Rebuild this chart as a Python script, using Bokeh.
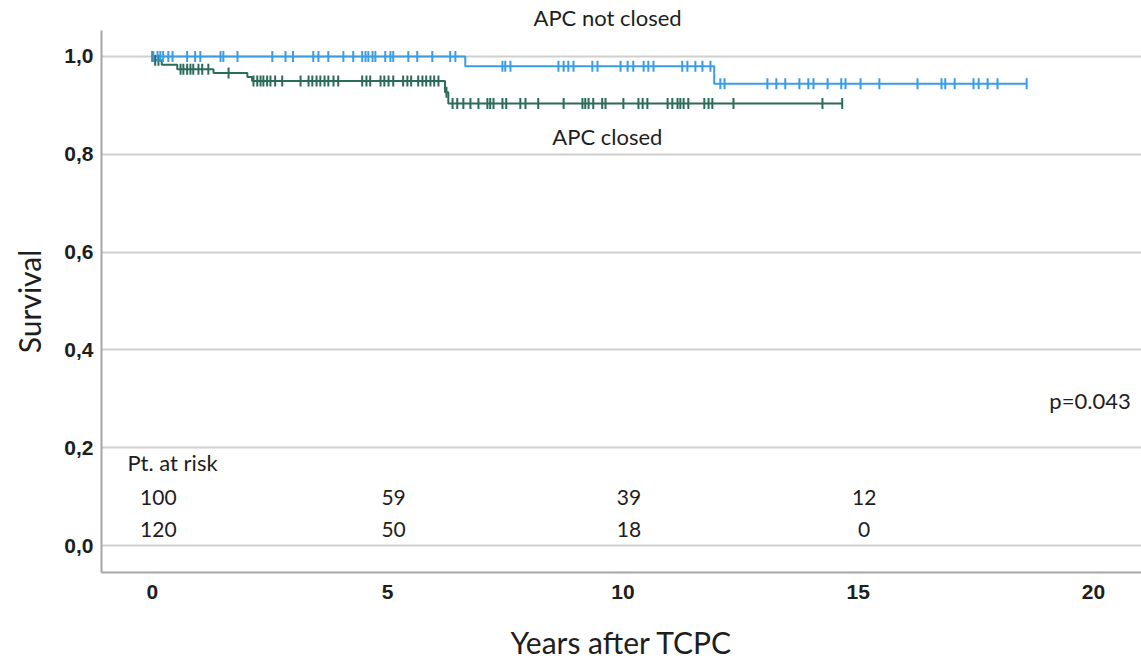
import numpy as np
from bokeh.plotting import figure
from bokeh.models import Range1d, FixedTicker, CustomJSTickFormatter, Label, ColumnDataSource
from bokeh.core.properties import value
from bokeh.embed import file_html
from bokeh.resources import INLINE

# ---------------- data ----------------
x_ticks = [0, 5, 10, 15, 20]
y_ticks = [0.0, 0.2, 0.4, 0.6, 0.8, 1.0]

# APC not closed (blue)
blue_event_times = [6.65, 11.94]
blue_event_surv = [0.980, 0.944]
blue_end = 18.58
blue_censor = [0.02, 0.11, 0.17, 0.23, 0.34, 0.43, 0.74, 0.91, 1.02, 1.45, 1.51, 1.81,
               2.55, 2.83, 2.99, 3.42, 3.53, 3.74, 4.06, 4.27, 4.46, 4.53, 4.59, 4.68,
               4.74, 4.95, 5.06, 5.12, 5.44, 5.63, 5.95, 6.33, 6.44,
               7.44, 7.50, 7.61, 8.63, 8.74, 8.84, 8.95, 9.35, 9.46, 9.95, 10.10, 10.22,
               10.44, 10.54, 10.65, 11.26, 11.37, 11.54, 11.69, 11.86,
               12.07, 12.16, 13.07, 13.26, 13.45, 13.75, 13.94, 14.05, 14.35, 14.64,
               14.73, 15.05, 15.45, 16.26, 16.77, 16.85, 17.05, 17.45, 17.56, 17.75,
               17.96, 18.58]

# APC closed (green)
green_event_times = [0.02, 0.20, 0.53, 1.30, 2.02, 2.12, 6.22, 6.29]
green_event_surv = [0.992, 0.983, 0.974, 0.966, 0.958, 0.950, 0.927, 0.904]
green_end = 14.66
green_censor = [0.0, 0.06, 0.13, 0.60, 0.66, 0.74, 0.81, 0.87, 0.98, 1.06, 1.19, 1.62,
                2.15, 2.23, 2.30, 2.36, 2.44, 2.51, 2.61, 2.76, 3.15, 3.32, 3.40, 3.49,
                3.57, 3.66, 3.74, 3.85, 3.95, 4.46, 4.55, 4.63, 4.85, 4.93, 5.02, 5.12,
                5.33, 5.42, 5.50, 5.65, 5.74, 5.82, 5.91, 5.99, 6.08, 6.25,
                6.38, 6.48, 6.61, 6.76, 6.93, 7.12, 7.18, 7.25, 7.44, 7.52, 7.82, 7.93,
                8.20, 8.74, 9.14, 9.20, 9.27, 9.37, 9.56, 9.63, 10.01, 10.33, 10.42,
                10.52, 10.95, 11.05, 11.16, 11.22, 11.29, 11.39, 11.73, 11.82, 11.90,
                12.35, 14.24, 14.66]

risk_times = [0, 5, 10, 15]
risk_not_closed = [100, 59, 39, 12]
risk_closed = [120, 50, 18, 0]

BLUE = "#3a9de3"
GREEN = "#2b6b59"
TXT = "#1e1e1e"
FONT = "Lato"


def step_arrays(times, surv, end):
    xs = [0.0] + list(times) + [end]
    ys = [1.0] + list(surv) + [surv[-1]]
    return xs, ys


def surv_at(t, times, surv):
    s = 1.0
    for et, ev in zip(times, surv):
        if et <= t:
            s = ev
    return s


p = figure(width=1141, height=662, output_backend="svg", toolbar_location=None,
           x_range=Range1d(-1.08, 21.02), y_range=Range1d(-0.055, 1.053),
           min_border_left=101, min_border_right=0, min_border_top=30, min_border_bottom=89,
           title="APC not closed")
p.outline_line_color = None
p.background_fill_color = "white"
p.border_fill_color = "white"

p.title.text_font = FONT
p.title.text_font_size = "22px"
p.title.text_font_style = "normal"
p.title.text_color = TXT
p.title.align = "left"
p.title.offset = 432
p.title.standoff = 0

# grid
p.xgrid.grid_line_color = None
p.ygrid.ticker = FixedTicker(ticks=y_ticks)
p.ygrid.grid_line_color = "#cfcfcf"
p.ygrid.grid_line_width = 2

# axes
fmt = CustomJSTickFormatter(code="return tick.toFixed(1).replace('.', ',');")
p.yaxis.ticker = FixedTicker(ticks=y_ticks)
p.yaxis.formatter = fmt
p.xaxis.ticker = FixedTicker(ticks=x_ticks)
for ax in (p.xaxis, p.yaxis):
    ax.major_tick_in = 0
    ax.major_tick_out = 0
    ax.minor_tick_in = 0
    ax.minor_tick_out = 0
    ax.axis_line_color = "#a6a6a6"
    ax.axis_line_width = 2
    ax.major_label_text_font = "Liberation Sans"
    ax.major_label_text_font_style = "bold"
    ax.major_label_text_font_size = "21px"
    ax.major_label_text_color = TXT
    ax.axis_label_text_font = FONT
    ax.axis_label_text_font_style = "normal"
    ax.axis_label_text_font_size = "30px"
    ax.axis_label_text_color = TXT
p.xaxis.axis_label = "Years after TCPC"
p.yaxis.axis_label = "Survival"
p.xaxis.major_label_standoff = 12
p.yaxis.major_label_standoff = 8
p.xaxis.axis_label_standoff = 22
p.yaxis.axis_label_standoff = 14

# curves
bx, by = step_arrays(blue_event_times, blue_event_surv, blue_end)
gx, gy = step_arrays(green_event_times, green_event_surv, green_end)
p.step(gx, gy, mode="after", line_color=GREEN, line_width=2)
p.step(bx, by, mode="after", line_color=BLUE, line_width=2)

gsrc = ColumnDataSource(dict(x=green_censor,
                             y=[surv_at(t, green_event_times, green_event_surv) for t in green_censor]))
bsrc = ColumnDataSource(dict(x=blue_censor,
                             y=[surv_at(t, blue_event_times, blue_event_surv) for t in blue_censor]))
p.scatter("x", "y", source=gsrc, marker="dash", angle=np.pi / 2, size=11,
          line_color=GREEN, line_width=2)
p.scatter("x", "y", source=bsrc, marker="dash", angle=np.pi / 2, size=11,
          line_color=BLUE, line_width=2)

# annotations
def lab(x, y, text, align="left", size="22px"):
    p.add_layout(Label(x=x, y=y, text=text, text_font=FONT, text_font_size=size,
                       text_color=TXT, text_align=align, text_baseline="middle"))

lab(9.67, 0.837, "APC closed", align="center")
lab(20.79, 0.296, "p=0.043", align="right")
lab(-0.53, 0.169, "Pt. at risk")

rsrc1 = ColumnDataSource(dict(x=risk_times, y=[0.098] * len(risk_times),
                              t=[str(v) for v in risk_not_closed]))
rsrc2 = ColumnDataSource(dict(x=risk_times, y=[0.033] * len(risk_times),
                              t=[str(v) for v in risk_closed]))
for src in (rsrc1, rsrc2):
    p.text("x", "y", text="t", source=src, text_font=value(FONT), text_font_size="21px",
           text_color=TXT, text_align="center", text_baseline="middle", x_offset=6)

open("out.html", "w").write(file_html(p, INLINE))
